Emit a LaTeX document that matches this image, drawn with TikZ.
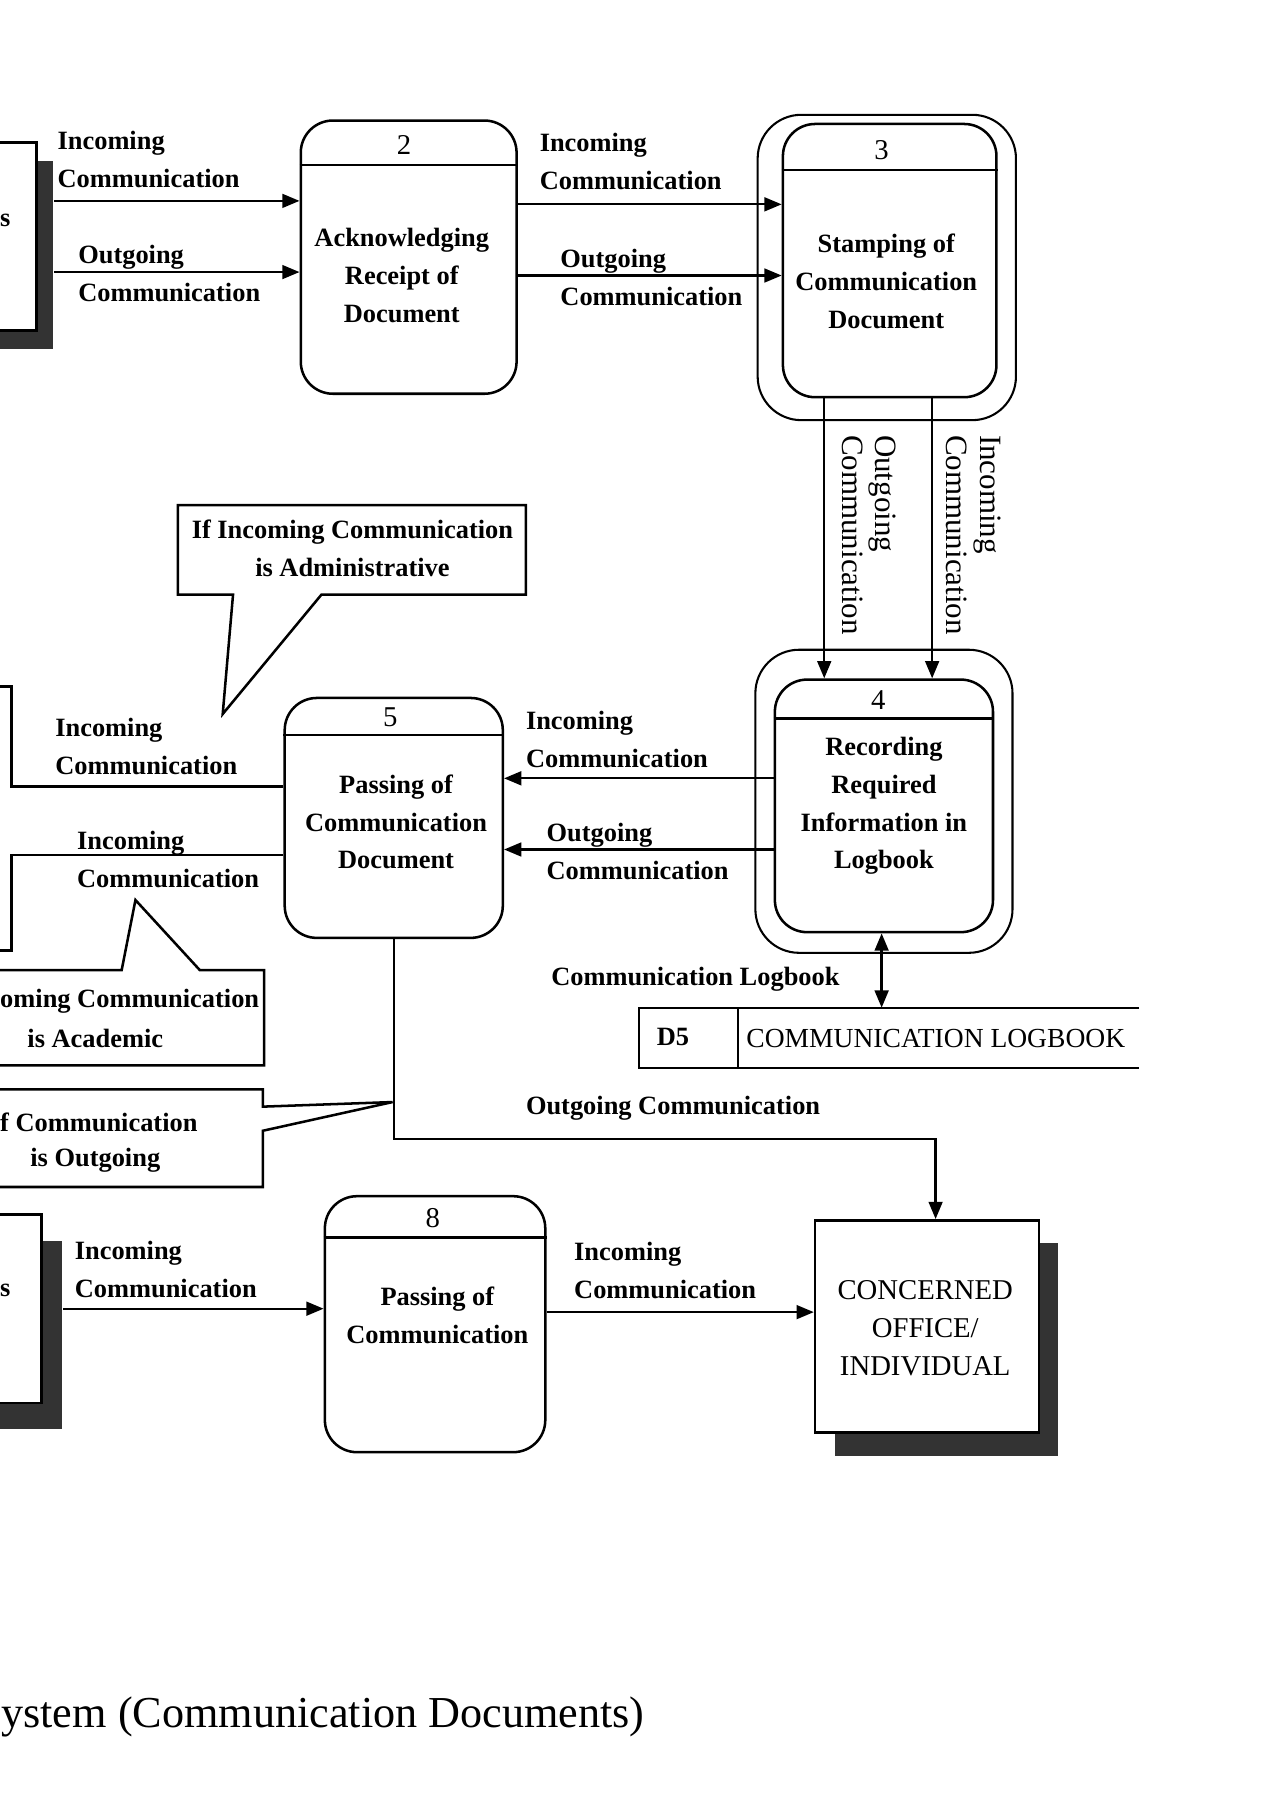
\documentclass[tikz,border=0pt]{standalone}
\usepackage{fontspec}
\setmainfont{Liberation Serif}
\usetikzlibrary{arrows.meta,shadows}
\begin{document}
\begin{tikzpicture}[x=1pt,y=-1pt,
  ln/.style={line width=2pt},
  arr/.style={line width=2pt,-{Triangle[length=15pt,width=12pt]}},
  dbl/.style={line width=2pt,{Triangle[length=15pt,width=12pt]}-{Triangle[length=15pt,width=12pt]}},
  proc/.style={draw,line width=2.2pt,rounded corners=28pt,inner sep=0},
  ring/.style={draw,line width=1.8pt,rounded corners=38pt,inner sep=0},
  ent/.style={draw,line width=2.2pt,fill=white,inner sep=0},
  lbl/.style={font=\bfseries\fontsize{23}{33}\selectfont,align=left,inner sep=0,anchor=west},
  vlbl/.style={font=\fontsize{27}{29}\selectfont,align=left,inner sep=0,anchor=center,rotate=-90},
  ptxt/.style={font=\bfseries\fontsize{23}{33}\selectfont,align=center,inner sep=0},
  num/.style={font=\fontsize{25}{26}\selectfont,inner sep=0},
  etxt/.style={font=\fontsize{25}{33}\selectfont,align=center,inner sep=0},
  note/.style={line width=2.2pt,line join=miter}
]
\useasboundingbox (0,0) rectangle (1108,1568);
\clip (0,0) rectangle (1108,1568);

% external entities
\node[ent,minimum width=92,minimum height=164,drop shadow={shadow xshift=14pt,shadow yshift=-16pt,fill=black!80,opacity=1}] (e1) at (-14,206) {};
\node[lbl] (e1t) at (0,192) {s};
\coordinate (e1s) at ([xshift=14pt]e1.east);

\node[ent,minimum width=96,minimum height=164,drop shadow={shadow xshift=18pt,shadow yshift=-23pt,fill=black!80,opacity=1}] (e2) at (-12,1140) {};
\node[lbl] (e2t) at (0,1124) {s};
\coordinate (e2s) at ([xshift=18pt]e2.east);

\node[ent,minimum width=195,minimum height=185,drop shadow={shadow xshift=17pt,shadow yshift=-20pt,fill=black!80,opacity=1}] (co) at (807.5,1155.5) {};
\node[etxt] (cot) at (806,1157) {CONCERNED\\OFFICE/\\INDIVIDUAL};

% processes
\node[proc,minimum width=188,minimum height=238] (p2) at (356,224) {};
\draw[ln] (p2.west |- 0,144) -- (p2.east |- 0,144);
\node[num] (p2n) at (352,126) {2};
\node[ptxt] (p2t) at (350,240) {Acknowledging\\Receipt of\\Document};

\node[ring,minimum width=225,minimum height=266] (p3o) at (772.5,233) {};
\node[proc,minimum width=186,minimum height=238] (p3) at (775,227) {};
\draw[ln] (p3.west |- 0,148) -- (p3.east |- 0,148);
\node[num] (p3n) at (768,131) {3};
\node[ptxt] (p3t) at (772,245) {Stamping of\\Communication\\Document};

\node[ring,minimum width=224,minimum height=264] (p4o) at (770,698) {};
\node[proc,minimum width=190,minimum height=220] (p4) at (770,702) {};
\draw[ln] (p4.west |- 0,626) -- (p4.east |- 0,626);
\node[num] (p4n) at (765,610) {4};
\node[ptxt] (p4t) at (770,702) {Recording\\Required\\Information in\\Logbook};

\node[proc,minimum width=190,minimum height=209] (p5) at (343,712.5) {};
\draw[ln] (p5.west |- 0,640) -- (p5.east |- 0,640);
\node[num] (p5n) at (340,625) {5};
\node[ptxt] (p5t) at (345,716) {Passing of\\Communication\\Document};

\node[proc,minimum width=192,minimum height=223] (p8) at (379,1153.5) {};
\draw[ln] (p8.west |- 0,1078) -- (p8.east |- 0,1078);
\node[num] (p8n) at (377,1061) {8};
\node[ptxt] (p8t) at (381,1146) {Passing of\\Communication};

% data store
\node[minimum width=435,minimum height=52,inner sep=0] (ds) at (774.5,904) {};
\draw[ln] (ds.north east) -- (ds.north west) -- (ds.south west) -- (ds.south east);
\draw[ln] (643,0 |- ds.north) -- (643,0 |- ds.south);
\node[lbl] (dsid) at (572,903) {D5};
\node[etxt,anchor=west,font=\fontsize{24}{33}\selectfont] (dsn) at (650,905) {COMMUNICATION LOGBOOK};

% free ends
\coordinate (lo1) at (-20,598);
\coordinate (lo2) at (-20,828);

% flows
\draw[arr] (e1s |- 0,175) -- (p2.west |- 0,175);
\draw[arr] (e1s |- 0,237) -- (p2.west |- 0,237);
\draw[arr] (p2.east |- 0,178) -- (p3.west |- 0,178);
\draw[arr] (p2.east |- 0,240) -- (p3.west |- 0,240);
\draw[arr] (718,0 |- p3.south) -- (718,0 |- p4.north);
\draw[arr] (812,0 |- p3.south) -- (812,0 |- p4.north);
\draw[arr] (p4.west |- 0,678) -- (p5.east |- 0,678);
\draw[arr] (p4.west |- 0,740) -- (p5.east |- 0,740);
\draw[dbl] (768,0 |- p4.south) -- (768,0 |- ds.north);
\draw[arr] (p5.south) -- (p5.south |- 0,992) -- (815,992) -- (815,0 |- co.north);
\draw[ln] (p5.west |- 0,685) -- (10,685) -- (10,598) -- (lo1);
\draw[ln] (p5.west |- 0,745) -- (10,745) -- (10,828) -- (lo2);
\draw[arr] (e2s |- 0,1140) -- (p8.west |- 0,1140);
\draw[arr] (p8.east |- 0,1143) -- (co.west |- 0,1143);

% flow labels
\node[lbl] (l1) at (50,139) {Incoming\\Communication};
\node[lbl] (l2) at (68,238) {Outgoing\\Communication};
\node[lbl] (l3) at (470,141) {Incoming\\Communication};
\node[lbl] (l4) at (488,242) {Outgoing\\Communication};
\node[vlbl] (l5) at (757,466) {Outgoing\\Communication};
\node[vlbl] (l6) at (848,466) {Incoming\\Communication};
\node[lbl] (l7) at (458,644) {Incoming\\Communication};
\node[lbl] (l8) at (476,742) {Outgoing\\Communication};
\node[lbl] (l9) at (48,650) {Incoming\\Communication};
\node[lbl] (l10) at (67,749) {Incoming\\Communication};
\node[lbl] (l11) at (480,853) {Communication Logbook};
\node[lbl] (l12) at (458,965) {Outgoing Communication};
\node[lbl] (l13) at (65,1106) {Incoming\\Communication};
\node[lbl] (l14) at (500,1107) {Incoming\\Communication};

% annotations
\draw[note] (155,440) -- (458,440) -- (458,518) -- (280,518) -- (194,622) -- (203,518) -- (155,518) -- cycle;
\node[ptxt] (n1) at (307,478) {If Incoming Communication\\is Administrative};
\draw[note] (-80,845) -- (106,845) -- (118,784) -- (174,845) -- (230,845) -- (230,928) -- (-80,928);
\node[lbl] (n2a) at (0,872) {oming Communication};
\node[ptxt] (n2b) at (83,905) {is Academic};
\draw[note] (-80,949) -- (229,949) -- (229,964) -- (342,960) -- (229,985) -- (229,1034) -- (-80,1034);
\node[lbl] (n3a) at (0,978) {f Communication};
\node[ptxt] (n3b) at (83,1011) {is Outgoing};

% caption
\node[font=\fontsize{38.5}{44}\selectfont,anchor=base west,inner sep=0] (cap) at (1,1505) {ystem (Communication Documents)};
\end{tikzpicture}
\end{document}
